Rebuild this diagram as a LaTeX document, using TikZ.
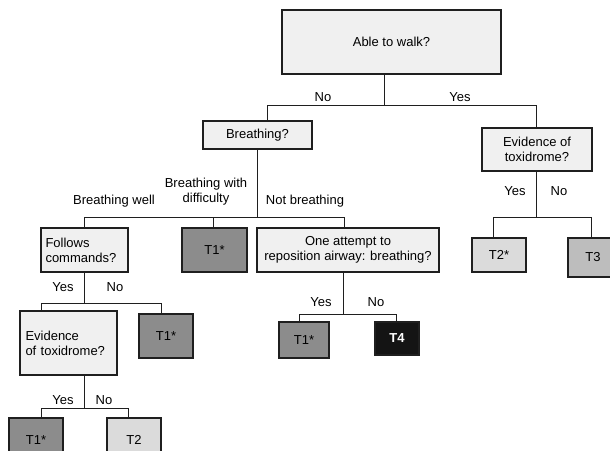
\documentclass[tikz,border=0pt]{standalone}
\usepackage{fontspec}
\setmainfont{Liberation Sans}
\usepackage[dvipsnames]{xcolor}
\usepackage{tikz}

\definecolor{qfill}{gray}{0.94}
\definecolor{lightT}{gray}{0.86}
\definecolor{midT}{gray}{0.74}
\definecolor{darkT}{gray}{0.55}
\definecolor{inkline}{gray}{0.12}

\begin{document}
\begin{tikzpicture}[x=1pt, y=-1pt,
  box/.style={draw=inkline, line width=1.1pt, inner sep=2pt, align=center,
    font=\fontsize{13}{15}\selectfont, text=black},
  qbox/.style={box, fill=qfill},
  lbl/.style={font=\fontsize{13}{15}\selectfont, text=black, align=center, inner sep=0pt},
  link/.style={draw=inkline, line width=1pt}]
\useasboundingbox (0,0) rectangle (610,450);
%
\node[qbox, minimum width=219, minimum height=64] (walk) at (391.5,42) {Able to walk?};
\node[qbox, minimum width=109, minimum height=28] (breath) at (257.5,135) {Breathing?};
\node[qbox, minimum width=110, minimum height=43] (toxA) at (537,149.5) {Evidence of\\toxidrome?};
%
\node[qbox, minimum width=87, minimum height=44, text width=78, align=left] (follow) at (84.5,250) {Follows\\commands?};
\node[box, fill=darkT, minimum width=65, minimum height=44] (tOneA) at (214.5,250) {T1*};
\node[qbox, minimum width=182, minimum height=44] (airway) at (348,250) {One attempt to\\reposition airway: breathing?};
\node[box, fill=lightT, minimum width=54, minimum height=34] (tTwoS) at (499,255) {T2*};
\node[box, fill=midT, minimum width=50, minimum height=39] (tThree) at (593,257.5) {T3};
%
\node[qbox, minimum width=97, minimum height=64, text width=86, align=left] (toxB) at (68.5,343) {Evidence\\of toxidrome?};
\node[box, fill=darkT, minimum width=54, minimum height=44] (tOneB) at (166,336) {T1*};
\node[box, fill=darkT, minimum width=50, minimum height=36] (tOneD) at (304,340) {T1*};
\node[box, fill=black!92, text=white, font=\fontsize{13}{15}\selectfont\bfseries, minimum width=44, minimum height=33] (tFour) at (397,338.5) {T4};
%
\node[box, fill=darkT, minimum width=54, minimum height=44] (tOneC) at (36,440) {T1*};
\node[box, fill=lightT, minimum width=54, minimum height=44] (tTwo) at (134,440) {T2};
%
% forks
\coordinate (fWalk) at (384,105);
\coordinate (fBreath) at (257,217);
\coordinate (fToxA) at (536,217);
\coordinate (fFollow) at (84,303);
\coordinate (fAirway) at (343,314);
\coordinate (fToxB) at (84,408);
%
\draw[link] (walk.south -| fWalk) -- (fWalk);
\draw[link] (fWalk) -| ([xshift=9.5]breath.north);
\draw[link] (fWalk) -| ([xshift=-1]toxA.north);
%
\draw[link] (breath.south -| fBreath) -- (fBreath);
\draw[link] (fBreath) -| ([xshift=-0.5]follow.north);
\draw[link] (fBreath) -| ([xshift=-1.5]tOneA.north);
\draw[link] (fBreath) -| ([xshift=-4]airway.north);
%
\draw[link] (toxA.south -| fToxA) -- (fToxA);
\draw[link] (fToxA) -| ([xshift=-6]tTwoS.north);
\draw[link] (fToxA) -| ([xshift=-2]tThree.north);
%
\draw[link] (follow.south -| fFollow) -- (fFollow);
\draw[link] (fFollow) -| ([xshift=-27.5]toxB.north);
\draw[link] (fFollow) -| ([xshift=-5]tOneB.north);
%
\draw[link] (airway.south -| fAirway) -- (fAirway);
\draw[link] (fAirway) -| ([xshift=-5]tOneD.north);
\draw[link] (fAirway) -| ([xshift=-1]tFour.north);
%
\draw[link] (toxB.south -| fToxB) -- (fToxB);
\draw[link] (fToxB) -| ([xshift=5]tOneC.north);
\draw[link] (fToxB) -| ([xshift=-6]tTwo.north);
%
% branch labels
\node[lbl] (noWalk) at (323,97) {No};
\node[lbl] (yesWalk) at (460,97) {Yes};
\node[lbl] (wellBreath) at (114,201) {Breathing well};
\node[lbl] (hardBreath) at (206,192) {Breathing with\\difficulty};
\node[lbl] (notBreath) at (305,201) {Not breathing};
\node[lbl] (yesToxA) at (515,191) {Yes};
\node[lbl] (noToxA) at (559,191) {No};
\node[lbl] (yesFollow) at (63,287) {Yes};
\node[lbl] (noFollow) at (115,287) {No};
\node[lbl] (yesAirway) at (321,302) {Yes};
\node[lbl] (noAirway) at (376,302) {No};
\node[lbl] (yesToxB) at (63,400) {Yes};
\node[lbl] (noToxB) at (104,400) {No};
\end{tikzpicture}
\end{document}
